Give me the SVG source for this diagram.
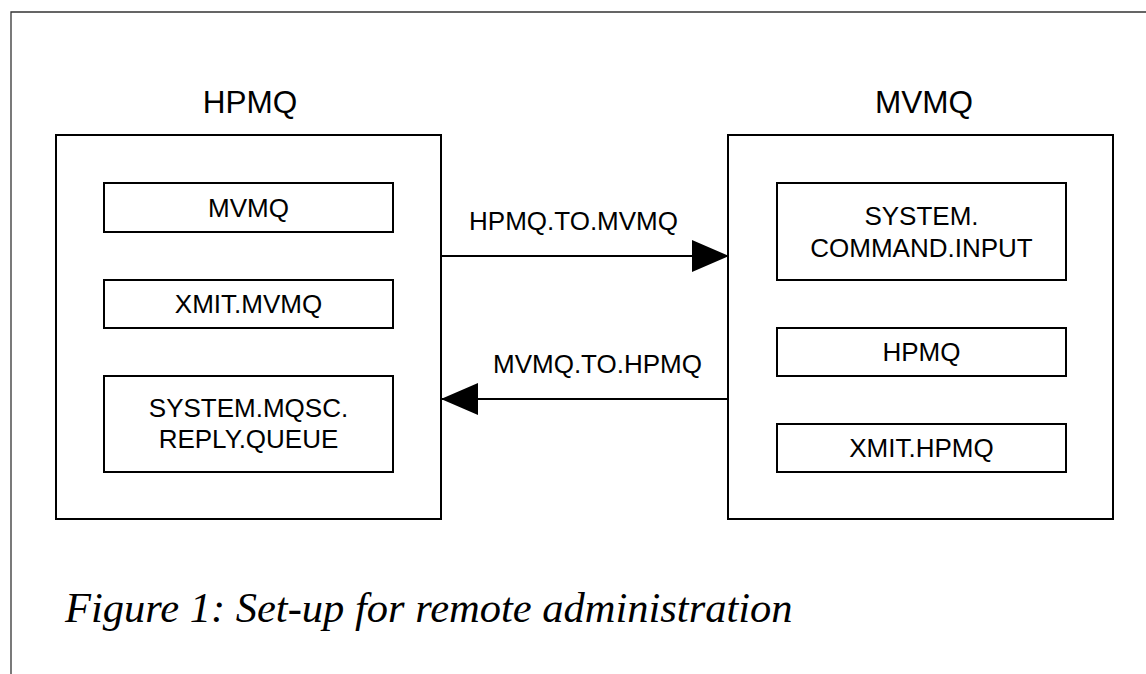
<svg xmlns="http://www.w3.org/2000/svg" width="1146" height="674" viewBox="0 0 1146 674">
  <style>
    .frame { fill: none; stroke: #333; stroke-width: 1.3; }
    .box { fill: #fff; stroke: #000; stroke-width: 2; }
    .lbl { font-family: "Liberation Sans", Arial, sans-serif; font-size: 26px; fill: #000; text-anchor: middle; }
    .title { font-family: "Liberation Sans", Arial, sans-serif; font-size: 31.5px; fill: #000; text-anchor: middle; }
    .cap { font-family: "Liberation Serif", "Times New Roman", serif; font-style: italic; font-size: 42.5px; fill: #000; }
    .conn { fill: none; stroke: #000; stroke-width: 2; }
  </style>
  <defs>
    <marker id="arrow" markerUnits="userSpaceOnUse" markerWidth="40" markerHeight="34" refX="37" refY="16" orient="auto">
      <path d="M0,0 L37,16 L0,32 Z" fill="#000"/>
    </marker>
  </defs>
  <rect width="1146" height="674" fill="#fff"/>
  <path class="frame" d="M11,674 L11,12 L1146,12"/>

  <g id="hpmq">
    <rect class="box" x="56" y="135" width="385" height="384"/>
    <text class="title" x="250" y="113">HPMQ</text>
  </g>
  <g id="hpmq-mvmq">
    <rect class="box" x="104" y="183" width="289" height="49"/>
    <text class="lbl" x="248.5" y="217">MVMQ</text>
  </g>
  <g id="hpmq-xmit">
    <rect class="box" x="104" y="280" width="289" height="48"/>
    <text class="lbl" x="248.5" y="313">XMIT.MVMQ</text>
  </g>
  <g id="hpmq-reply">
    <rect class="box" x="104" y="376" width="289" height="96"/>
    <text class="lbl" x="248.5" y="417">SYSTEM.MQSC.</text>
    <text class="lbl" x="248.5" y="448">REPLY.QUEUE</text>
  </g>

  <g id="mvmq">
    <rect class="box" x="728" y="135" width="385" height="384"/>
    <text class="title" x="924" y="113">MVMQ</text>
  </g>
  <g id="mvmq-cmd">
    <rect class="box" x="777" y="183" width="289" height="97"/>
    <text class="lbl" x="921.5" y="225">SYSTEM.</text>
    <text class="lbl" x="921.5" y="257">COMMAND.INPUT</text>
  </g>
  <g id="mvmq-hpmq">
    <rect class="box" x="777" y="328" width="289" height="48"/>
    <text class="lbl" x="921.5" y="361">HPMQ</text>
  </g>
  <g id="mvmq-xmit">
    <rect class="box" x="777" y="424" width="289" height="48"/>
    <text class="lbl" x="921.5" y="457">XMIT.HPMQ</text>
  </g>

  <g id="connectors">
    <line class="conn" x1="441" y1="256" x2="729" y2="256" marker-end="url(#arrow)"/>
    <text class="lbl" x="573.5" y="230">HPMQ.TO.MVMQ</text>
    <line class="conn" x1="728" y1="399" x2="441" y2="399" marker-end="url(#arrow)"/>
    <text class="lbl" x="597.5" y="373">MVMQ.TO.HPMQ</text>
  </g>

  <text class="cap" x="65" y="622">Figure 1: Set-up for remote administration</text>
</svg>
